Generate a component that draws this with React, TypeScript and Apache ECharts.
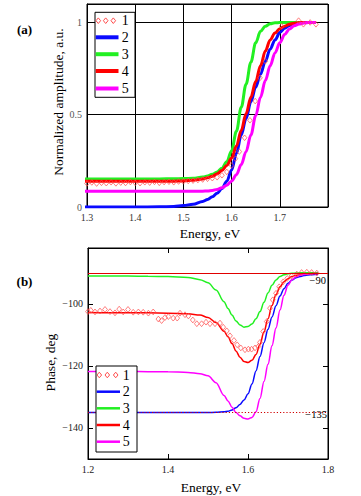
import React, { useEffect, useRef } from "react";
import * as echarts from "echarts";

// ---------- data ----------
const E_FIT = [1.2, 1.25, 1.3, 1.35, 1.4, 1.45, 1.48, 1.5, 1.52, 1.54, 1.55, 1.56, 1.57, 1.58, 1.59, 1.6, 1.61, 1.62, 1.63, 1.64, 1.65, 1.66, 1.67, 1.68, 1.69, 1.7, 1.71, 1.72, 1.73, 1.74, 1.75, 1.76, 1.775];

// (a) normalized amplitude fits
const AMP_2 = [0, 0, 0, 0, 0, 0.001, 0.003, 0.008, 0.015, 0.03, 0.04, 0.055, 0.075, 0.1, 0.14, 0.2, 0.29, 0.39, 0.48, 0.57, 0.65, 0.72, 0.79, 0.855, 0.905, 0.945, 0.968, 0.983, 0.993, 0.998, 1, 1, 1];
const AMP_3 = [0.152, 0.152, 0.152, 0.152, 0.152, 0.152, 0.153, 0.154, 0.156, 0.162, 0.168, 0.177, 0.19, 0.21, 0.245, 0.305, 0.41, 0.54, 0.665, 0.785, 0.89, 0.952, 0.98, 0.993, 0.998, 1, 1, 1, 1, 1, 1, 1, 1];
const AMP_4 = [0.139, 0.139, 0.139, 0.139, 0.139, 0.14, 0.14, 0.141, 0.145, 0.152, 0.158, 0.167, 0.18, 0.198, 0.225, 0.265, 0.33, 0.415, 0.505, 0.595, 0.68, 0.765, 0.845, 0.905, 0.943, 0.966, 0.98, 0.99, 0.996, 0.999, 1, 1, 1];
const AMP_5 = [0.085, 0.085, 0.085, 0.085, 0.085, 0.085, 0.085, 0.085, 0.085, 0.086, 0.087, 0.09, 0.095, 0.104, 0.118, 0.14, 0.175, 0.23, 0.3, 0.39, 0.495, 0.595, 0.685, 0.765, 0.835, 0.89, 0.935, 0.965, 0.982, 0.992, 0.997, 1, 1];

// (a) measured amplitude (series 1)
const AMP_1_E = [1.3, 1.31, 1.32, 1.33, 1.34, 1.35, 1.36, 1.37, 1.38, 1.39, 1.4, 1.41, 1.42, 1.43, 1.44, 1.45, 1.46, 1.47, 1.48, 1.49, 1.5, 1.51, 1.52, 1.53, 1.54, 1.55, 1.56, 1.57, 1.58, 1.59, 1.6, 1.608, 1.616, 1.627, 1.638, 1.649, 1.659, 1.67, 1.704, 1.739, 1.749, 1.763, 1.775];
const AMP_1 = [0.128, 0.133, 0.127, 0.131, 0.129, 0.134, 0.128, 0.132, 0.13, 0.135, 0.131, 0.129, 0.134, 0.132, 0.136, 0.131, 0.135, 0.137, 0.134, 0.138, 0.139, 0.141, 0.143, 0.146, 0.149, 0.153, 0.156, 0.161, 0.172, 0.19, 0.225, 0.262, 0.3, 0.375, 0.47, 0.574, 0.7, 0.79, 0.98, 1.01, 0.99, 1.0, 0.99];

// (b) phase fits
const PH_2 = [-135, -135, -135, -135, -135, -135, -135, -135, -134.95, -134.8, -134.6, -134.2, -133.5, -132.4, -131.0, -129.0, -125.8, -121.6, -117.0, -112.5, -108.2, -104.2, -100.6, -97.5, -95.1, -93.4, -92.3, -91.6, -91.2, -90.9, -90.7, -90.6, -90.5];
const PH_3 = [-91.0, -91.0, -91.05, -91.1, -91.2, -91.5, -92.2, -93.2, -95.5, -99.3, -101.5, -103.6, -105.5, -106.8, -107.5, -107.3, -106.5, -104.8, -102.5, -99.5, -96.5, -94.0, -92.3, -91.2, -90.6, -90.3, -90.15, -90.05, -90, -90, -90, -90, -90];
const PH_4 = [-102.8, -102.85, -102.9, -102.9, -103.0, -103.2, -103.6, -104.4, -106.0, -108.8, -110.6, -112.8, -115.2, -117.2, -118.6, -118.9, -118.2, -116.3, -113.0, -109.0, -104.8, -100.5, -97.0, -94.5, -92.9, -91.9, -91.2, -90.8, -90.6, -90.4, -90.3, -90.25, -90.2];
const PH_5 = [-121.8, -121.8, -121.8, -121.85, -121.9, -122.1, -122.5, -123.2, -125.4, -129.5, -131.3, -133.3, -135.0, -136.1, -136.9, -137.1, -136.6, -134.8, -130.5, -125.0, -119.5, -113.5, -107.8, -102.0, -97.2, -94.0, -92.2, -91.3, -90.8, -90.5, -90.35, -90.3, -90.25];

// (b) measured phase (series 1)
const PH_1_E = [1.2, 1.207, 1.2175, 1.23, 1.2425, 1.255, 1.2675, 1.278, 1.288, 1.3, 1.313, 1.326, 1.338, 1.351, 1.363, 1.376, 1.384, 1.3925, 1.401, 1.413, 1.423, 1.43, 1.4425, 1.451, 1.462, 1.472, 1.484, 1.495, 1.505, 1.5175, 1.53, 1.538, 1.547, 1.555, 1.565, 1.573, 1.582, 1.5925, 1.601, 1.609, 1.6175, 1.626, 1.63, 1.638, 1.647, 1.655, 1.662, 1.67, 1.678, 1.688, 1.698, 1.709, 1.722, 1.734, 1.747, 1.759, 1.772];
const PH_1 = [-102.5, -102.1, -102.6, -102.3, -101.8, -102.5, -102.9, -101.7, -102.6, -101.8, -102.7, -102.6, -102.7, -103.0, -102.6, -104.9, -105.4, -104.4, -104.1, -104.6, -104.6, -103.0, -103.5, -103.9, -105.2, -106.4, -106.4, -105.9, -106.4, -106.4, -106.2, -107.5, -108.7, -110.3, -111.8, -113.2, -114.2, -114.8, -114.6, -114.6, -114.2, -113.7, -112.4, -108.9, -105.7, -101.4, -98.7, -96.6, -94.5, -92.9, -91.8, -91.0, -90.4, -89.9, -89.8, -89.9, -90.1];

// reference levels and ticks
const PH_LEVEL_TOP = -90;
const PH_LEVEL_BOTTOM = -135;
const Y_TICKS_B = [-140, -120, -100];
const LEGEND_LABELS = ["1", "2", "3", "4", "5"];

// ---------- styling ----------
const SERIF = "Liberation Serif, DejaVu Serif, serif";
const BLUE = "#0a0aff";
const GREEN = "#22f022";
const RED = "#ff0000";
const MAGENTA = "#ff00ff";
const DIAMOND = "#ff4d4d";
const COLORS = [BLUE, GREEN, RED, MAGENTA];

const zip = (xs: number[], ys: number[]) => xs.map((x, i) => [x, ys[i]]);
const minus = (v: number) => (v < 0 ? "\u2212" + Math.abs(v) : String(v));

function txt(text: string, x: number, y: number, opts: any = {}) {
  const size = opts.size ?? 13;
  return {
    type: "text",
    x,
    y,
    rotation: opts.rotation ?? 0,
    z: 100,
    style: {
      text,
      fontFamily: SERIF,
      fontSize: size,
      fontWeight: opts.bold ? "bold" : "normal",
      fill: opts.color ?? "#000",
      align: opts.align ?? "center",
      verticalAlign: "middle",
      textAlign: opts.align ?? "center",
      textVerticalAlign: "middle",
    },
  };
}

function diamond(cx: number, cy: number) {
  return {
    type: "polygon",
    z: 101,
    shape: { points: [[cx, cy - 2.8], [cx + 2.3, cy], [cx, cy + 2.8], [cx - 2.3, cy]] },
    style: { fill: "none", stroke: DIAMOND, lineWidth: 1 },
  };
}

function legend(box: number[], rows: number[], lineX: number[], dx: number[], textX: number, lw: number) {
  const els: any[] = [
    {
      type: "rect",
      z: 99,
      shape: { x: box[0], y: box[1], width: box[2], height: box[3] },
      style: { fill: "#fff", stroke: "#000", lineWidth: 1 },
    },
  ];
  dx.forEach((x) => els.push(diamond(x, rows[0])));
  for (let i = 1; i < 5; i++) {
    els.push({
      type: "line",
      z: 101,
      shape: { x1: lineX[0], y1: rows[i], x2: lineX[1], y2: rows[i] },
      style: { stroke: COLORS[i - 1], lineWidth: lw },
    });
  }
  LEGEND_LABELS.forEach((t, i) => els.push(txt(t, textX, rows[i], { size: 14 })));
  return els;
}

function buildOption(): any {
  const axisLine = { show: true, onZero: false, lineStyle: { color: "#000", width: 1 } };
  const fitA = (ys: number[], color: string) => ({
    type: "line",
    xAxisIndex: 0,
    yAxisIndex: 0,
    data: zip(E_FIT, ys),
    symbol: "none",
    showSymbol: false,
    smooth: 0.35,
    smoothMonotone: "x",
    clip: true,
    lineStyle: { color, width: 3 },
    z: 3,
  });
  const fitB = (ys: number[], color: string) => ({
    type: "line",
    xAxisIndex: 1,
    yAxisIndex: 1,
    data: zip(E_FIT, ys),
    symbol: "none",
    showSymbol: false,
    smooth: 0.35,
    smoothMonotone: "x",
    clip: true,
    lineStyle: { color, width: 1.5 },
    z: 3,
  });
  const tickLabel = (color: string) => ({ color, fontFamily: SERIF, fontSize: 10, margin: 5 });

  return {
    animation: false,
    backgroundColor: "#fff",
    textStyle: { fontFamily: SERIF },
    grid: [
      { left: 87, top: 4, width: 241, height: 203, show: true, borderColor: "#000", borderWidth: 1, backgroundColor: "transparent" },
      { left: 88, top: 248, width: 240, height: 211, show: true, borderColor: "#000", borderWidth: 1, backgroundColor: "transparent" },
    ],
    xAxis: [
      {
        type: "value",
        gridIndex: 0,
        min: 1.3,
        max: 1.8,
        interval: 0.1,
        axisLine,
        axisTick: { show: false },
        splitLine: { show: true, lineStyle: { color: "#000", width: 1 } },
        axisLabel: { ...tickLabel("#333"), formatter: (v: number) => (v > 1.75 ? "" : v.toFixed(1)) },
      },
      {
        type: "value",
        gridIndex: 1,
        min: 1.2,
        max: 1.8,
        interval: 0.2,
        axisLine,
        axisTick: { show: true, inside: true, length: 5, lineStyle: { color: "#000" } },
        splitLine: { show: false },
        axisLabel: { ...tickLabel("#222"), formatter: (v: number) => v.toFixed(1) },
      },
      {
        type: "value",
        gridIndex: 1,
        position: "top",
        min: 1.2,
        max: 1.8,
        interval: 0.2,
        axisLine,
        axisTick: { show: true, inside: true, length: 5, lineStyle: { color: "#000" } },
        splitLine: { show: false },
        axisLabel: { show: false },
      },
    ],
    yAxis: [
      {
        type: "value",
        gridIndex: 0,
        min: 0,
        max: 1.1,
        interval: 0.5,
        axisLine,
        axisTick: { show: false },
        splitLine: { show: true, lineStyle: { color: "#000", width: 1 } },
        axisLabel: {
          ...tickLabel("#555"),
          formatter: (v: number) =>
            Math.abs(v) < 1e-9 ? "0" : Math.abs(v - 0.5) < 1e-9 ? "0.5" : Math.abs(v - 1) < 1e-9 ? "1" : "",
        },
      },
      {
        type: "value",
        gridIndex: 1,
        min: -150,
        max: -82,
        axisLine,
        axisTick: { show: true, inside: true, length: 5, customValues: Y_TICKS_B, lineStyle: { color: "#000" } },
        splitLine: { show: false },
        axisLabel: { ...tickLabel("#222"), customValues: Y_TICKS_B, formatter: (v: number) => minus(v) },
      },
      {
        type: "value",
        gridIndex: 1,
        position: "right",
        min: -150,
        max: -82,
        axisLine,
        axisTick: { show: true, inside: true, length: 5, customValues: Y_TICKS_B, lineStyle: { color: "#000" } },
        splitLine: { show: false },
        axisLabel: { show: false },
      },
    ],
    series: [
      fitA(AMP_2, BLUE),
      fitA(AMP_3, GREEN),
      fitA(AMP_4, RED),
      fitA(AMP_5, MAGENTA),
      {
        type: "scatter",
        xAxisIndex: 0,
        yAxisIndex: 0,
        data: zip(AMP_1_E, AMP_1),
        symbol: "diamond",
        symbolSize: [4.6, 5.6],
        itemStyle: { color: "transparent", borderColor: DIAMOND, borderWidth: 0.9 },
        z: 4,
      },
      {
        type: "line",
        xAxisIndex: 1,
        yAxisIndex: 1,
        data: [],
        symbol: "none",
        markLine: {
          silent: true,
          symbol: "none",
          label: { show: false },
          data: [
            { yAxis: PH_LEVEL_TOP, lineStyle: { color: "#e00000", width: 1, type: "solid" } },
            { yAxis: PH_LEVEL_BOTTOM, lineStyle: { color: "#d00000", width: 1, type: [1.2, 2] } },
          ],
        },
        z: 2,
      },
      fitB(PH_2, BLUE),
      fitB(PH_3, GREEN),
      fitB(PH_4, RED),
      fitB(PH_5, MAGENTA),
      {
        type: "scatter",
        xAxisIndex: 1,
        yAxisIndex: 1,
        data: zip(PH_1_E, PH_1),
        symbol: "diamond",
        symbolSize: [4.8, 5.8],
        itemStyle: { color: "transparent", borderColor: DIAMOND, borderWidth: 0.9 },
        z: 4,
      },
    ],
    graphic: [
      txt("(a)", 24.5, 29, { bold: true }),
      txt("Normalized amplitude, a.u.", 58, 102, { rotation: Math.PI / 2, size: 13.5 }),
      txt("Energy, eV", 210, 233, { size: 13.5 }),
      txt("(b)", 24.5, 281, { bold: true }),
      txt("Phase, deg", 50, 362.5, { rotation: Math.PI / 2, size: 13.5 }),
      txt("Energy, eV", 211, 487, { size: 13.5 }),
      txt(minus(PH_LEVEL_TOP), 326, 280, { size: 10.5, align: "right" }),
      txt(minus(PH_LEVEL_BOTTOM), 327, 414.5, { size: 10.5, align: "right" }),
      ...legend([95, 12.3, 40, 85], [20.7, 37.3, 54.2, 71, 88.5], [95.7, 118.5], [98.3, 105.7, 113.3], 125.3, 4),
      ...legend([96, 366, 41, 86], [375, 391.7, 408.3, 425, 441.7], [96.7, 120], [99.3, 107.3, 115.7], 126.3, 2.5),
    ],
  };
}

export default function App() {
  const ref = useRef<HTMLDivElement>(null);
  useEffect(() => {
    if (!ref.current) return;
    const chart = echarts.init(ref.current, null, { renderer: "svg" });
    chart.setOption(buildOption());
    return () => chart.dispose();
  }, []);
  return (
    <div
      ref={ref}
      style={{ position: "fixed", left: 0, top: 0, width: 361, height: 496, background: "#fff" }}
    />
  );
}
